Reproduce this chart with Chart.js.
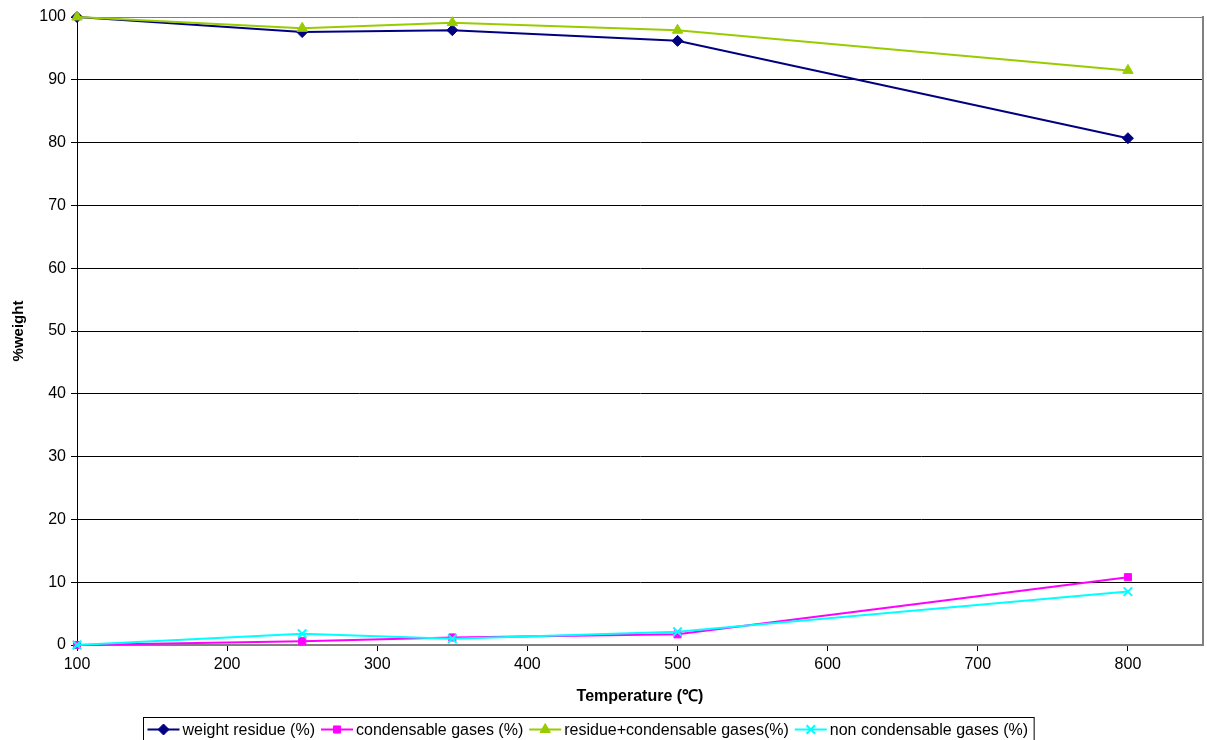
<!DOCTYPE html>
<html>
<head>
<meta charset="utf-8">
<script src="https://cdn.jsdelivr.net/npm/chart.js@4"></script>
<style>
  html, body { margin: 0; padding: 0; background: #fff; }
  #wrap { width: 1207px; height: 740px; position: relative; }
</style>
</head>
<body>
<div id="wrap"><canvas id="chart"></canvas></div>
<script>
// temperatures (℃)
const temps = [100, 250, 350, 500, 800];
const weightResidue = [100, 97.6, 97.9, 96.2, 80.7];
const condensable = [0, 0.6, 1.2, 1.7, 10.8];
const residuePlusCond = [100, 98.2, 99.1, 97.9, 91.5];
const nonCondensable = [0, 1.8, 1.0, 2.1, 8.5];
const xTicks = [100, 200, 300, 400, 500, 600, 700, 800];
const yTicks = [0, 10, 20, 30, 40, 50, 60, 70, 80, 90, 100];

const seriesInfo = [
    { label: 'weight residue (%)', data: weightResidue, color: '#000080', style: 'rectRot', r: 5.5, order: 4 },
    { label: 'condensable gases (%)', data: condensable, color: '#FF00FF', style: 'rect', r: 5, order: 3 },
    { label: 'residue+condensable gases(%)', data: residuePlusCond, color: '#99CC00', style: 'triangle', r: 6, order: 2 },
    { label: 'non condensable gases (%)', data: nonCondensable, color: '#00FFFF', style: 'crossRot', r: 6, order: 1 }
];

const FONT = 'Liberation Sans, Arial, sans-serif';

function toPoints(values) {
    return temps.map((t, i) => ({ x: t, y: values[i] }));
}

const datasets = seriesInfo.map(s => ({
    label: s.label,
    data: toPoints(s.data),
    borderColor: s.color,
    backgroundColor: s.color,
    borderWidth: 2,
    pointStyle: s.style,
    pointRadius: s.r,
    pointHoverRadius: s.r,
    pointBorderWidth: s.style === 'crossRot' ? 2 : 1,
    order: s.order,
    clip: false,
    tension: 0
}));

// right frame line + legend with line-and-marker swatches
const framePlugin = {
    id: 'frame',
    afterDraw(chart) {
        const ctx = chart.ctx;
        const a = chart.chartArea;
        ctx.save();
        ctx.strokeStyle = '#808080';
        ctx.lineWidth = 2;
        ctx.beginPath();
        ctx.moveTo(Math.round(a.right), a.top - 1);
        ctx.lineTo(Math.round(a.right), a.bottom);
        ctx.stroke();

        // legend
        ctx.font = '16px ' + FONT;
        ctx.textBaseline = 'middle';
        const swatch = 32, gapText = 3, gapItem = 6, padL = 4, padR = 6;
        let total = padL + padR;
        seriesInfo.forEach((s, i) => {
            total += swatch + gapText + ctx.measureText(s.label).width;
            if (i < seriesInfo.length - 1) total += gapItem;
        });
        const boxH = 26;
        const boxL = Math.round((chart.width - total) / 2 - 15) + 0.5;
        const boxT = 717.5;
        ctx.strokeStyle = '#000';
        ctx.lineWidth = 1;
        ctx.strokeRect(boxL, boxT, total, boxH);
        let x = boxL + padL;
        const cy = boxT + 12;
        seriesInfo.forEach(s => {
            ctx.strokeStyle = s.color;
            ctx.lineWidth = 2;
            ctx.beginPath();
            ctx.moveTo(x, cy);
            ctx.lineTo(x + swatch, cy);
            ctx.stroke();
            ctx.fillStyle = s.color;
            ctx.strokeStyle = s.color;
            const bw = s.style === 'crossRot' ? 2 : 1;
            ctx.lineWidth = bw;
            Chart.helpers.drawPoint(ctx, { pointStyle: s.style, radius: s.r, rotation: 0, borderWidth: bw }, x + swatch / 2, cy);
            x += swatch + gapText;
            ctx.fillStyle = '#000';
            ctx.fillText(s.label, x, cy + 1);
            x += ctx.measureText(s.label).width + gapItem;
        });
        ctx.restore();
    }
};

new Chart(document.getElementById('chart'), {
    type: 'line',
    data: { datasets },
    options: {
        responsive: true,
        maintainAspectRatio: false,
        animation: false,
        layout: { autoPadding: false, padding: { top: 17, right: 4, bottom: 34, left: 8 } },
        plugins: {
            legend: { display: false },
            tooltip: { enabled: false }
        },
        scales: {
            x: {
                type: 'linear',
                min: 100,
                max: 850,
                afterBuildTicks: axis => { axis.ticks = xTicks.map(v => ({ value: v })); },
                afterFit: axis => {
                    axis.height = 61;
                    axis.paddingRight = 0;
                    axis.paddingLeft = 0;
                },
                grid: {
                    drawOnChartArea: false,
                    tickLength: 6,
                    tickColor: '#000'
                },
                border: { color: '#808080', width: 2 },
                ticks: {
                    color: '#000',
                    font: { family: FONT, size: 16 },
                    padding: 4,
                    maxRotation: 0
                },
                title: {
                    display: true,
                    text: 'Temperature (℃)',
                    color: '#000',
                    font: { family: FONT, size: 16, weight: 'bold' },
                    padding: { top: 8, bottom: 0 }
                }
            },
            y: {
                min: 0,
                max: 100,
                afterBuildTicks: axis => { axis.ticks = yTicks.map(v => ({ value: v })); },
                afterFit: axis => { axis.width = 69; },
                grid: {
                    color: ctx => (ctx.tick && ctx.tick.value === 100 ? '#808080' : '#000'),
                    tickColor: '#000',
                    tickLength: 6
                },
                border: { color: '#000', width: 1 },
                ticks: {
                    color: '#000',
                    font: { family: FONT, size: 16 },
                    padding: 5
                },
                title: {
                    display: true,
                    text: '%weight',
                    color: '#000',
                    font: { family: FONT, size: 15, weight: 'bold' },
                    padding: { top: 2, bottom: 0 }
                }
            }
        }
    },
    plugins: [framePlugin]
});
</script>
</body>
</html>
